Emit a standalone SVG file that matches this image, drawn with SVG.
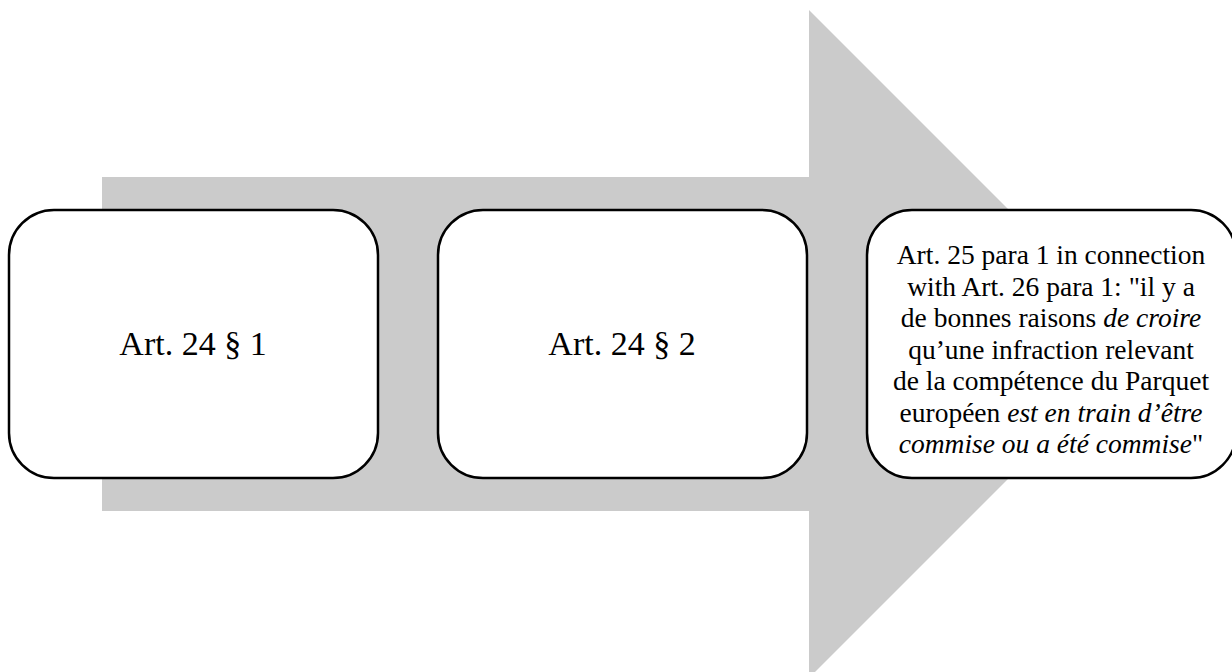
<svg xmlns="http://www.w3.org/2000/svg" width="1232" height="672" viewBox="0 0 1232 672">
<style>
.box{fill:#fff;stroke:#000;stroke-width:2.5}
text,tspan{font-family:"Liberation Serif","Times New Roman",serif}
.t{fill:#000;text-anchor:middle}
.big{font-size:34px}
.small{font-size:27.5px}
.i{font-style:italic}
</style>
<rect width="1232" height="672" fill="#fff"/>
<g id="connectors">
<path d="M102,177 L809,177 L809,10 L1143,344 L809,678 L809,511 L102,511 Z" fill="#cbcbcb"/>
</g>
<g id="node1">
<rect class="box" x="9" y="210" width="369" height="268" rx="45" ry="45"/>
<text class="t big" x="193" y="355" font-family="Liberation Serif, serif">Art. 24 § 1</text>
</g>
<g id="node2">
<rect class="box" x="438" y="210" width="369" height="268" rx="45" ry="45"/>
<text class="t big" x="622" y="355" font-family="Liberation Serif, serif">Art. 24 § 2</text>
</g>
<g id="node3">
<rect class="box" x="867" y="210" width="369" height="268" rx="45" ry="45"/>
<text class="t small" font-family="Liberation Serif, serif"><tspan x="1051" y="264">Art. 25 para 1 in connection</tspan><tspan x="1051" y="295.5">with Art. 26 para 1: "il y a</tspan><tspan x="1051" y="327">de bonnes raisons <tspan class="i">de croire</tspan></tspan><tspan x="1051" y="358.5">qu’une infraction relevant</tspan><tspan x="1051" y="390">de la compétence du Parquet</tspan><tspan x="1051" y="421.5">européen <tspan class="i">est en train d’être</tspan></tspan><tspan x="1051" y="453"><tspan class="i">commise ou a été commise</tspan>"</tspan></text>
</g>
</svg>
